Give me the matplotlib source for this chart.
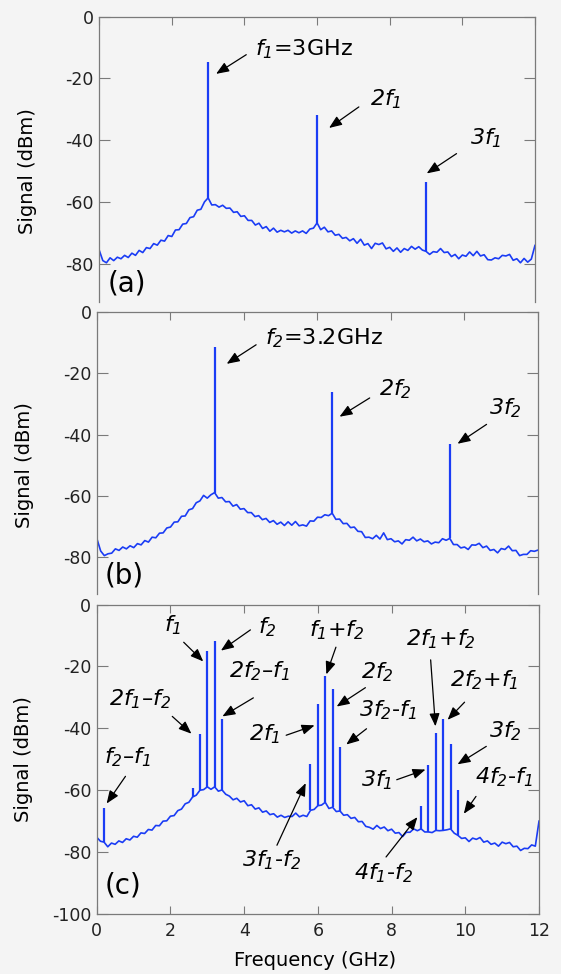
import numpy as np
import matplotlib.pyplot as plt
from matplotlib import transforms

plt.rcParams['font.family'] = ['DejaVu Sans']
plt.rcParams['axes.unicode_minus'] = False
# italic everywhere inside $...$ so the digits in "2f1" lean too
plt.rcParams['mathtext.fontset'] = 'custom'
plt.rcParams['mathtext.rm'] = 'DejaVu Sans:italic'
plt.rcParams['mathtext.it'] = 'DejaVu Sans:italic'

# frequency grid of the noise traces (GHz), one reading every 0.1 GHz
freq_ghz = np.linspace(0, 12, 121)

# noise floor (dBm)
floor_a = [
    -75.5, -78.9, -79.6, -78.0, -78.9, -77.8, -78.3, -77.2, -77.9, -76.5,
    -77.2, -75.6, -76.3, -74.7, -75.0, -73.4, -73.9, -72.3, -72.6, -70.8,
    -71.1, -69.0, -68.9, -67.1, -66.9, -65.0, -64.7, -62.6, -62.3, -59.9,
    -58.6, -60.9, -60.8, -61.6, -61.0, -62.0, -61.9, -63.3, -63.1, -64.6,
    -64.4, -65.9, -65.9, -67.4, -66.8, -68.5, -67.9, -69.4, -68.4, -69.7,
    -69.1, -69.6, -69.1, -70.0, -69.3, -69.9, -69.3, -70.1, -68.7, -68.4,
    -66.7, -68.9, -68.1, -69.6, -69.3, -70.7, -70.4, -71.7, -71.4, -72.5,
    -71.8, -73.3, -72.0, -73.9, -73.4, -75.0, -73.3, -73.7, -73.2, -75.1,
    -74.6, -75.9, -74.8, -76.2, -75.0, -75.6, -74.3, -75.2, -74.4, -75.5,
    -75.9, -76.9, -76.0, -76.2, -75.0, -76.3, -76.1, -77.6, -76.9, -78.3,
    -77.1, -77.5, -76.1, -77.3, -75.9, -77.4, -77.0, -78.6, -78.7, -78.0,
    -78.3, -77.2, -77.4, -76.9, -78.8, -78.3, -79.6, -78.2, -79.4, -78.4,
    -74.0,
]
floor_b = [
    -74.0, -77.9, -79.4, -78.8, -78.6, -77.2, -77.7, -76.6, -77.2, -76.2,
    -76.8, -75.5, -75.9, -74.5, -75.0, -73.4, -73.6, -72.1, -72.0, -70.4,
    -70.1, -68.5, -68.4, -66.6, -66.5, -64.5, -64.1, -62.2, -61.6, -59.8,
    -60.7, -59.6, -58.9, -60.7, -60.5, -61.9, -61.8, -63.3, -62.8, -64.3,
    -64.1, -65.4, -65.4, -66.7, -66.4, -67.7, -67.3, -68.6, -68.0, -69.2,
    -68.5, -69.6, -68.4, -69.5, -68.3, -69.7, -69.4, -69.8, -68.1, -68.2,
    -66.9, -67.0, -66.1, -66.4, -65.6, -67.6, -67.5, -69.0, -68.9, -70.3,
    -70.1, -71.5, -71.6, -73.5, -73.4, -73.9, -72.8, -74.0, -72.0, -74.2,
    -73.9, -74.9, -74.6, -75.6, -74.2, -74.4, -73.4, -74.6, -74.0, -74.9,
    -74.6, -75.6, -75.0, -75.2, -73.9, -74.4, -73.8, -75.8, -75.8, -76.9,
    -76.6, -77.4, -75.9, -76.0, -75.4, -76.8, -76.3, -77.7, -77.4, -78.5,
    -77.1, -77.4, -76.3, -77.8, -77.7, -79.4, -79.0, -79.0, -77.8, -78.0,
    -77.6,
]
floor_c = [
    -75.3, -76.6, -76.9, -78.4, -77.2, -77.6, -76.5, -77.0, -75.8, -76.2,
    -75.0, -75.3, -73.9, -74.1, -72.8, -73.0, -71.5, -71.6, -70.1, -70.0,
    -68.5, -68.3, -66.7, -66.2, -64.5, -64.0, -62.3, -61.7, -60.1, -59.9,
    -59.0, -59.8, -59.0, -60.4, -60.0, -61.4, -62.0, -63.2, -62.7, -63.9,
    -63.5, -65.1, -64.8, -66.2, -65.8, -67.2, -66.8, -68.0, -67.7, -68.8,
    -68.2, -68.9, -68.5, -68.6, -67.5, -68.7, -68.2, -68.6, -66.6, -66.3,
    -65.1, -64.9, -64.0, -66.0, -65.6, -67.0, -66.8, -68.2, -68.0, -69.2,
    -68.9, -70.3, -70.2, -71.8, -72.1, -72.7, -71.5, -72.5, -72.0, -73.2,
    -72.7, -74.0, -73.8, -75.1, -73.7, -73.7, -72.6, -73.2, -72.6, -73.6,
    -73.6, -73.8, -73.1, -73.2, -73.1, -72.9, -72.6, -74.0, -74.7, -75.7,
    -75.5, -76.7, -75.6, -76.0, -75.4, -76.9, -76.5, -77.6, -77.2, -78.2,
    -76.9, -77.4, -77.0, -78.4, -78.2, -79.6, -78.9, -79.0, -77.8, -78.2,
    -70.1,
]

# spectral lines: frequency (GHz) and peak level (dBm)
peak_f_a = [3.0, 6.0, 9.0]
peak_db_a = [-14.8, -31.9, -53.5]
peak_f_b = [3.2, 6.4, 9.6]
peak_db_b = [-11.6, -26.3, -43.2]
peak_f_c = [0.2, 2.6, 2.8, 3.0, 3.2, 3.4, 5.8, 6.0, 6.2, 6.4, 6.6,
            8.8, 9.0, 9.2, 9.4, 9.6, 9.8]
peak_db_c = [-65.8, -59.5, -42.0, -15.1, -11.7, -37.0, -51.7, -32.3, -23.2,
             -27.4, -46.1, -65.3, -52.0, -41.5, -36.9, -45.0, -60.1]

# label, text (x, y), arrow tail (x, y), arrow tip (x, y)
notes_a = [
    ('$f_1$=3GHz', 4.30, -10.5, 4.05, -12.3, 3.22, -18.5),
    ('$2f_1$', 7.45, -26.8, 7.15, -29.2, 6.33, -36.0),
    ('$3f_1$', 10.2, -39.2, 9.84, -44.3, 9.02, -50.7),
]
notes_b = [
    ('$f_2$=3.2GHz', 4.57, -8.6, 4.33, -10.8, 3.53, -17.0),
    ('$2f_2$', 7.67, -25.4, 7.42, -28.1, 6.60, -34.2),
    ('$3f_2$', 10.68, -31.3, 10.60, -36.7, 9.81, -43.0),
]
notes_c = [
    ('$f_1$', 1.82, -6.8, 2.36, -12.2, 2.89, -18.4),
    ('$f_2$', 4.38, -7.3, 4.17, -8.2, 3.37, -14.9),
    ('$2f_2$\u2013$f_1$', 3.59, -21.6, 4.25, -30.2, 3.41, -36.2),
    ('$2f_1$\u2013$f_2$', 0.34, -30.5, 2.05, -36.2, 2.57, -41.8),
    ('$f_2$\u2013$f_1$', 0.19, -49.4, 0.78, -55.6, 0.27, -64.4),
    ('$f_1$+$f_2$', 5.77, -8.4, 6.49, -13.8, 6.23, -22.6),
    ('$2f_2$', 7.17, -21.9, 7.29, -26.9, 6.51, -33.0),
    ('$3f_2$-$f_1$', 7.12, -34.1, 7.32, -40.2, 6.77, -45.3),
    ('$2f_1$', 4.12, -42.0, 5.14, -42.3, 5.91, -39.1),
    ('$3f_1$-$f_2$', 3.93, -82.8, 4.89, -77.9, 5.67, -57.8),
    ('$2f_1$+$f_2$', 8.38, -11.1, 9.06, -17.9, 9.19, -39.4),
    ('$2f_2$+$f_1$', 9.58, -24.6, 9.98, -31.6, 9.52, -37.3),
    ('$3f_2$', 10.64, -40.9, 10.57, -45.9, 9.79, -51.7),
    ('$3f_1$', 7.17, -56.9, 8.14, -56.7, 8.92, -53.4),
    ('$4f_2$-$f_1$', 10.27, -55.8, 10.29, -62.1, 9.96, -67.7),
    ('$4f_1$-$f_2$', 6.98, -87.1, 7.85, -81.7, 8.70, -68.8),
]

BG = '#f4f4f4'
TRACE = '#1a3cf5'
FRAME = '#7a7a7a'


def draw_panel(ax, floor, peak_f, peak_db, notes, tag, tag_y, ymin, last=False):
    """Draws one spectrum panel: noise floor, spectral lines, arrows, tag."""
    ax.set_facecolor(BG)
    ax.plot(freq_ghz, floor, color=TRACE, lw=1.2)
    base = np.interp(peak_f, freq_ghz, floor)
    ax.vlines(peak_f, base, peak_db, color=TRACE, lw=1.6)

    for label, tx, ty, ax0, ay0, ax1, ay1 in notes:
        ax.text(tx, ty, label, fontsize=16, ha='left', va='center')
        ax.annotate('', xy=(ax1, ay1), xytext=(ax0, ay0),
                    arrowprops=dict(arrowstyle='-|>,head_length=0.55,head_width=0.22',
                                    color='black', lw=0.9, mutation_scale=14,
                                    shrinkA=0, shrinkB=0))

    ax.text(0.22, tag_y, tag, fontsize=20, ha='left', va='center')

    # ticks first, limits after, so the cropped panels keep their range
    ax.set_xticks(range(0, 13, 2))
    ax.set_yticks([t for t in [-100, -80, -60, -40, -20, 0] if t >= ymin])
    ax.set_xlim(0, 12)
    ax.set_ylim(ymin, 0)
    ax.tick_params(axis='both', direction='in', top=True, right=True,
                   color=FRAME, labelsize=12.5, labelcolor='#222222', width=0.8)
    ax.tick_params(axis='x', length=6, pad=6)
    ax.tick_params(axis='y', length=8, pad=4)
    for sp in ax.spines.values():
        sp.set_color(FRAME)
        sp.set_linewidth(0.9)

    ax.set_ylabel('Signal (dBm)', fontsize=14)
    ax.yaxis.set_label_coords(-0.143, -50,
                              transform=transforms.blended_transform_factory(
                                  ax.transAxes, ax.transData))

    if not last:
        # the upper panels are cropped just above their bottom edge
        ax.spines['bottom'].set_visible(False)
        ax.tick_params(axis='x', bottom=False, labelbottom=False)


fig = plt.figure(figsize=(5.61, 9.74), dpi=100, facecolor=BG)
ax_a = fig.add_axes([0.1768, 0.6899, 0.7768, 0.2930])
ax_b = fig.add_axes([0.1729, 0.3901, 0.7861, 0.2900])
ax_c = fig.add_axes([0.1724, 0.0621, 0.7884, 0.3172])

draw_panel(ax_a, floor_a, peak_f_a, peak_db_a, notes_a, '(a)', -86.4, -92.3)
draw_panel(ax_b, floor_b, peak_f_b, peak_db_b, notes_b, '(b)', -85.8, -91.9)
draw_panel(ax_c, floor_c, peak_f_c, peak_db_c, notes_c, '(c)', -90.8, -100,
           last=True)

ax_c.set_xlabel('Frequency (GHz)', fontsize=14)
ax_c.xaxis.set_label_coords(0.493, -0.12)

fig.savefig('out.png', dpi=100, facecolor=BG)
